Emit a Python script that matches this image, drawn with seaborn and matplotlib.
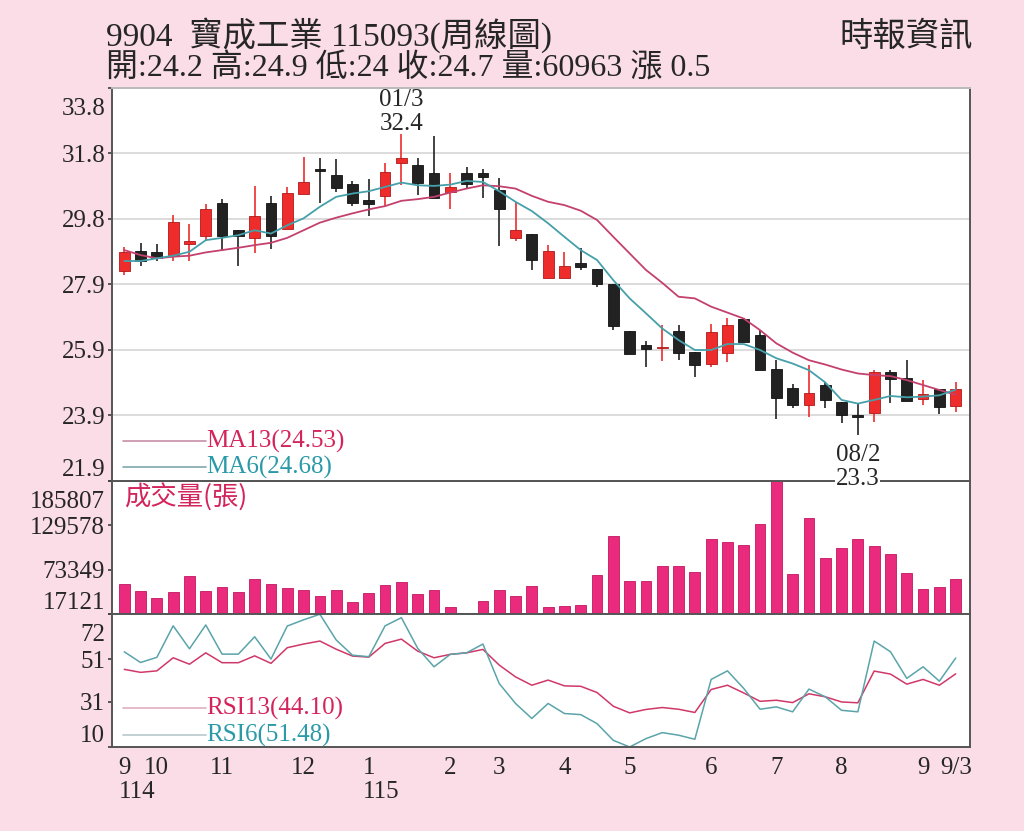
import numpy as np
import matplotlib
matplotlib.use('Agg')
import matplotlib.pyplot as plt
import matplotlib.transforms as mtransforms
import seaborn as sns

# weekly data, 52 weeks (114/9 .. 115/9/3)
opens = [28.27, 28.87, 28.83, 28.75, 29.08, 29.33, 30.31, 29.52, 29.27, 30.31,
         29.53, 30.59, 31.32, 31.17, 30.91, 30.41, 30.53, 31.52, 31.47, 31.22,
         30.66, 31.22, 31.22, 30.73, 29.27, 29.40, 28.07, 28.07, 28.52, 28.33,
         27.86, 26.45, 26.03, 25.93, 26.45, 25.83, 25.47, 25.78, 26.81, 26.33,
         25.32, 24.72, 24.23, 24.82, 24.31, 23.88, 23.98, 25.20, 25.02, 24.39,
         24.70, 24.20]
closes = [28.85, 28.57, 28.65, 29.74, 29.17, 30.14, 29.33, 29.33, 29.94, 29.33,
          30.63, 30.97, 31.30, 30.79, 30.33, 30.29, 31.27, 31.67, 30.93, 30.48,
          30.81, 30.89, 31.10, 30.14, 29.52, 28.61, 28.87, 28.42, 28.40, 27.89,
          26.60, 25.75, 25.90, 25.98, 25.78, 25.44, 26.43, 26.63, 26.13, 25.27,
          24.42, 24.21, 24.57, 24.37, 23.91, 23.86, 25.20, 24.99, 24.35, 24.55,
          24.16, 24.70]
highs = [29.00, 29.12, 29.07, 29.96, 29.68, 30.28, 30.44, 29.52, 30.83, 30.53,
         30.81, 31.72, 31.67, 31.64, 30.99, 31.04, 31.52, 32.40, 31.67, 32.35,
         31.22, 31.42, 31.34, 31.09, 30.36, 29.40, 29.05, 28.85, 28.95, 28.33,
         27.86, 26.45, 26.16, 26.63, 26.63, 25.83, 26.66, 26.86, 26.85, 26.48,
         25.57, 24.84, 25.42, 24.90, 24.31, 24.27, 25.27, 25.27, 25.57, 24.97,
         24.70, 24.90]
lows = [28.16, 28.43, 28.57, 28.57, 28.57, 29.17, 28.90, 28.41, 28.82, 28.92,
        29.53, 30.59, 30.33, 30.66, 30.23, 29.93, 30.23, 30.86, 30.56, 30.48,
        30.13, 30.76, 30.48, 29.02, 29.17, 28.30, 28.07, 28.07, 28.30, 27.79,
        26.48, 25.75, 25.37, 25.55, 25.57, 25.07, 25.37, 25.52, 26.13, 25.27,
        23.78, 24.14, 23.86, 24.14, 23.66, 23.30, 23.71, 24.28, 24.35, 24.21,
        23.96, 24.00]
ma6 = [28.57, 28.57, 28.65, 28.73, 28.85, 29.20, 29.27, 29.35, 29.50, 29.40,
       29.65, 29.86, 30.21, 30.51, 30.61, 30.68, 30.81, 30.94, 30.86, 30.84,
       30.88, 30.99, 30.96, 30.68, 30.36, 30.08, 29.71, 29.30, 28.90, 28.60,
       27.99, 27.44, 26.99, 26.53, 26.18, 25.88, 25.88, 26.06, 26.06, 25.88,
       25.63, 25.47, 25.27, 24.90, 24.37, 24.26, 24.37, 24.49, 24.45, 24.47,
       24.51, 24.68]
ma13 = [28.90, 28.75, 28.65, 28.70, 28.73, 28.83, 28.90, 28.97, 29.05, 29.12,
        29.27, 29.50, 29.73, 29.88, 30.01, 30.13, 30.23, 30.39, 30.44, 30.51,
        30.64, 30.76, 30.86, 30.83, 30.76, 30.54, 30.36, 30.26, 30.09, 29.81,
        29.30, 28.80, 28.30, 27.91, 27.49, 27.44, 27.19, 27.01, 26.83, 26.48,
        26.08, 25.80, 25.57, 25.44, 25.29, 25.17, 25.12, 25.09, 24.97, 24.82,
        24.67, 24.53]
volume = [55470, 46230, 36860, 44460, 65590, 46230, 51670, 44460, 61790, 54580,
          49520, 46990, 39900, 47490, 32310, 43190, 54200, 57110, 42430, 46990,
          26360, 18770, 33570, 46990, 40280, 52050, 25980, 26740, 28890, 66480,
          115830, 58880, 58880, 78250, 78250, 71030, 112410, 108620, 104440, 131390,
          185807, 67240, 139370, 87990, 101400, 112030, 103560, 93810, 69770, 48250,
          50780, 60963]
rsi6 = [54.4, 49.4, 51.8, 66.5, 55.8, 66.9, 53.3, 53.3, 61.4, 51.0,
        66.4, 69.3, 71.9, 59.9, 52.8, 52.1, 66.5, 70.3, 56.0, 47.4,
        53.2, 53.9, 58.0, 39.6, 30.3, 23.3, 30.3, 25.6, 25.1, 20.9,
        13.1, 10.0, 13.9, 16.7, 15.5, 13.6, 41.5, 45.5, 37.3, 27.6,
        28.7, 26.4, 37.0, 33.4, 27.1, 26.4, 59.4, 54.4, 42.0, 47.4,
        40.7, 51.48]
rsi13 = [46.2, 44.8, 45.5, 51.6, 48.6, 53.9, 49.3, 49.3, 52.5, 49.0,
         56.3, 58.0, 59.4, 55.6, 52.4, 51.9, 58.3, 60.3, 54.7, 51.6,
         53.2, 53.9, 55.5, 48.2, 42.7, 38.8, 41.2, 38.5, 38.3, 35.4,
         29.0, 25.9, 27.5, 28.4, 27.6, 26.1, 36.8, 38.8, 35.2, 31.3,
         31.8, 30.7, 34.8, 33.4, 31.0, 30.6, 45.4, 44.0, 39.3, 41.5,
         38.8, 44.10]

month_pos = [0, 2, 6, 11, 15, 20, 23, 27, 31, 36, 40, 44, 49, 51]
month_labels = ['9', '10', '11', '12', '1', '2', '3', '4', '5', '6', '7', '8', '9', '9/3']
price_ticks = np.linspace(21.92, 33.8, 7)
vol_ticks = [17121, 73349, 129578, 185807]
rsi_ticks = [10, 31, 51, 72]

BG = '#fadde7'
RED = '#ee2c2c'
BLACK = '#222222'
MA13_C = '#c4406e'
MA6_C = '#45a0aa'
VOL_C = '#ea2a7c'
TXT_PINK = '#d4245c'
TXT_TEAL = '#2b9aa8'

sns.set_theme(style='white')
plt.rcParams['font.family'] = ['Liberation Serif', 'Noto Sans CJK TC', 'DejaVu Sans']
plt.rcParams['axes.unicode_minus'] = False

fig = plt.figure(figsize=(10.24, 8.31), dpi=100, facecolor=BG)
L, W = 0.1094, 0.8379
ax = fig.add_axes([L, 0.4212, W, 0.4729])
axv = fig.add_axes([L, 0.2611, W, 0.1601], sharex=ax)
axr = fig.add_axes([L, 0.1011, W, 0.1600], sharex=ax)
ax.set_zorder(3)

n = len(closes)
x = np.arange(n)

# ---- price panel ----
for i in range(n):
    up = closes[i] >= opens[i]
    c = RED if up else BLACK
    ec = '#b01818' if up else '#111111'
    ax.vlines(x[i], lows[i], highs[i], color=c, lw=1.2, zorder=2)
    lo = min(opens[i], closes[i])
    h = max(abs(closes[i] - opens[i]), 0.04)
    ax.bar(x[i], h, bottom=lo, width=0.66, color=c, edgecolor=ec, lw=0.6, zorder=3)

sns.lineplot(x=x, y=ma13, ax=ax, color=MA13_C, lw=1.3, zorder=4)
sns.lineplot(x=x, y=ma6, ax=ax, color=MA6_C, lw=1.3, zorder=4)

ax.set_ylim(21.92, 33.8)
ax.set_yticks(price_ticks)
ax.set_yticklabels(['%.1f' % v for v in price_ticks])
ax.grid(axis='y', color='#d6d6d6', lw=1.2)
ax.set_xlim(-0.75, 51.88)

# annotations
ax.text(17, 33.45, '01/3', ha='center', va='center', fontsize=18)
ax.text(17, 32.7, '32.4', ha='center', va='center', fontsize=18)
ax.text(45, 22.7, '08/2', ha='center', va='center', fontsize=18)
ax.text(45, 21.98, '23.3', ha='center', va='center', fontsize=18, zorder=6, clip_on=False,
        bbox=dict(facecolor='white', edgecolor='none', pad=0.5))

# legend
ax.plot([-0.05, 5.0], [23.13, 23.13], color='#c890a8', lw=1.2)
ax.plot([-0.05, 5.0], [22.34, 22.34], color='#80a8b0', lw=1.2)
ax.text(5.0, 23.13, 'MA13(24.53)', color=TXT_PINK, fontsize=18, va='center', ha='left')
ax.text(5.0, 22.34, 'MA6(24.68)', color=TXT_TEAL, fontsize=18, va='center', ha='left')

# ---- volume panel ----
sns.barplot(x=x, y=volume, ax=axv, color=VOL_C, saturation=1, width=0.66,
            edgecolor='#c0185f', linewidth=0.6, native_scale=True)
axv.set_ylim(17121, 185807)
axv.set_yticks(vol_ticks)
axv.set_yticklabels([str(v) for v in vol_ticks])
axv.text(0.0, 182000, '成交量(張)', color=TXT_PINK, fontsize=19, va='top', ha='left',
         family=['Noto Sans CJK TC', 'Liberation Serif'])

# ---- RSI panel ----
sns.lineplot(x=x, y=rsi13, ax=axr, color='#d03868', lw=1.1)
sns.lineplot(x=x, y=rsi6, ax=axr, color='#5aa4aa', lw=1.1)
axr.set_ylim(10, 72)
axr.set_yticks(rsi_ticks)
axr.set_yticklabels([str(v) for v in rsi_ticks])
axr.plot([-0.05, 5.0], [28.1, 28.1], color='#e0b0c0', lw=1.2)
axr.plot([-0.05, 5.0], [15.5, 15.5], color='#b8c8cc', lw=1.2)
axr.text(5.0, 28.1, 'RSI13(44.10)', color=TXT_PINK, fontsize=18, va='center', ha='left')
axr.text(5.0, 15.5, 'RSI6(51.48)', color=TXT_TEAL, fontsize=18, va='center', ha='left')

axr.set_xticks(month_pos)
axr.set_xticklabels(month_labels)
axr.set_xticks(x, minor=True)
axr.tick_params(axis='x', which='major', length=6, width=1.2, labelsize=18, pad=1, color='#444444')
axr.tick_params(axis='x', which='minor', length=3, width=1, color='#444444')
axr.text(-0.35, -0.34, '114', transform=axr.get_xaxis_transform(), fontsize=18, ha='left', va='center')
axr.text(14.65, -0.34, '115', transform=axr.get_xaxis_transform(), fontsize=18, ha='left', va='center')

for a in (ax, axv, axr):
    a.set_facecolor('white')
    a.set_xlabel('')
    a.set_ylabel('')
    a.tick_params(axis='y', which='both', labelsize=18, length=3, pad=2, color='#444444', left=True)
    for s in a.spines.values():
        s.set_color('#555555')
        s.set_linewidth(1.4)
    a.spines['top'].set_color('#bbbbbb')
for a in (ax, axv):
    a.tick_params(axis='x', which='both', bottom=False, labelbottom=False)
axv.spines['top'].set_color('#555555')
axr.spines['top'].set_color('#555555')

# shift end labels inward like the original
shift_down = mtransforms.ScaledTranslation(0, -7 / 72, fig.dpi_scale_trans)
for a in (ax, axv, axr):
    labs = a.get_yticklabels()
    labs[0].set_va('bottom')
    labs[-1].set_va('top')
    labs[-1].set_transform(labs[-1].get_transform() + shift_down)

# header
fig.text(0.104, 0.958, '9904  寶成工業 115093(周線圖)', fontsize=24, ha='left', va='center')
fig.text(0.104, 0.918, '開:24.2 高:24.9 低:24 收:24.7 量:60963 漲 0.5', fontsize=23, ha='left', va='center')
fig.text(0.950, 0.955, '時報資訊', fontsize=24, ha='right', va='center')

fig.savefig('out.png', dpi=100, facecolor=BG)
